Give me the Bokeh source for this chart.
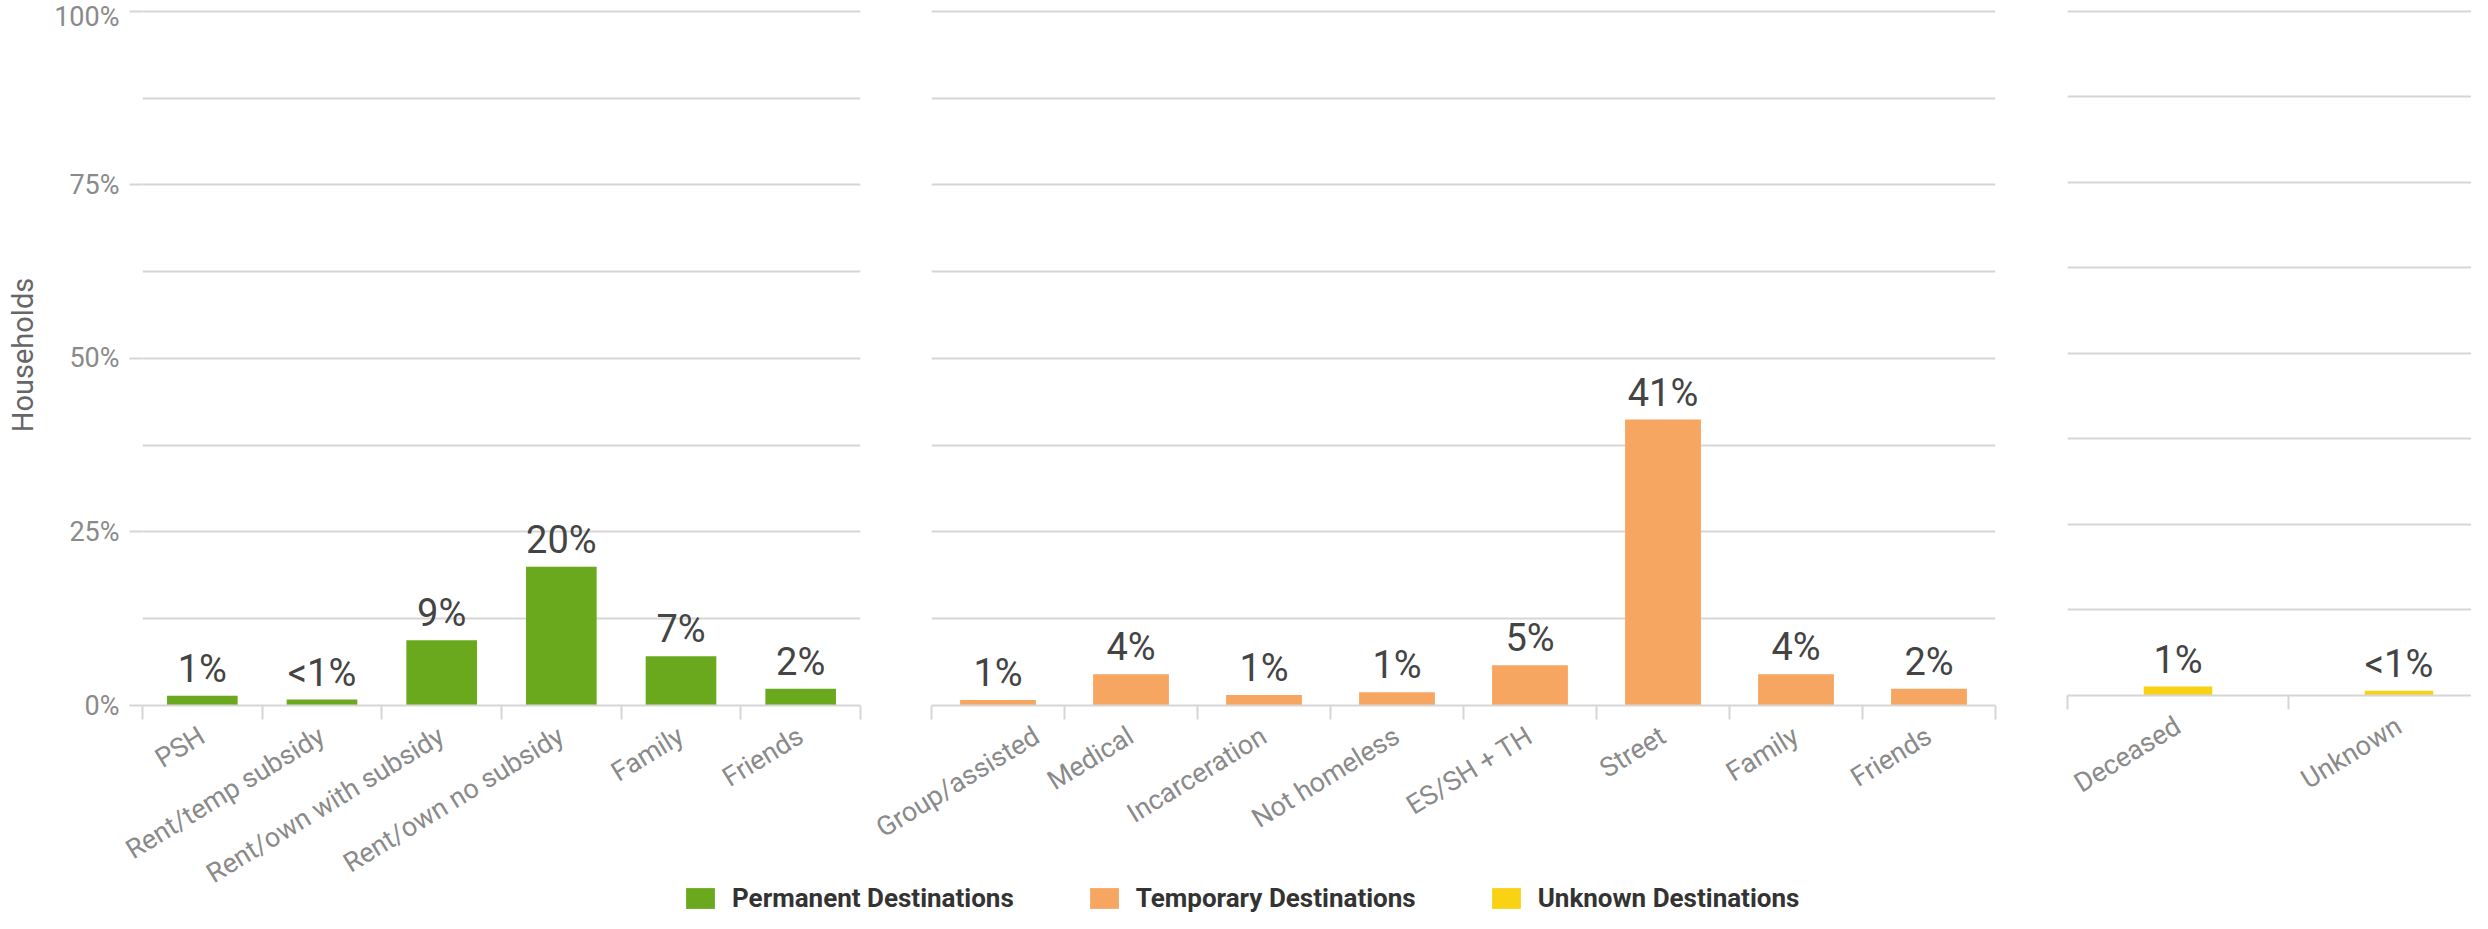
import numpy as np
from bokeh.plotting import figure
from bokeh.models import (Range1d, FixedTicker, PrintfTickFormatter, ColumnDataSource,
                          Legend, LegendItem, CustomJSTickFormatter)
from bokeh.layouts import column, row
from bokeh.embed import file_html
from bokeh.resources import INLINE
from bokeh.core.properties import value

# ---------------- data ----------------
perm_cats = ["PSH", "Rent/temp subsidy", "Rent/own with subsidy", "Rent/own no subsidy", "Family", "Friends"]
perm_vals = [1.4, 0.85, 9.4, 20.0, 7.1, 2.4]
perm_labels = ["1%", "<1%", "9%", "20%", "7%", "2%"]

temp_cats = ["Group/assisted", "Medical", "Incarceration", "Not homeless", "ES/SH + TH", "Street", "Family", "Friends"]
temp_vals = [0.8, 4.5, 1.5, 1.9, 5.8, 41.2, 4.5, 2.4]
temp_labels = ["1%", "4%", "1%", "1%", "5%", "41%", "4%", "2%"]

unk_cats = ["Deceased", "Unknown"]
unk_vals = [1.3, 0.7]
unk_labels = ["1%", "<1%"]

series_names = ["Permanent Destinations", "Temporary Destinations", "Unknown Destinations"]
series_colors = ["#6aa91d", "#f7a661", "#f8d213"]

y_tick_values = [0, 25, 50, 75, 100]
grid_values = [0, 12.5, 25, 37.5, 50, 62.5, 75, 87.5, 100]
y_axis_title = "Households"

# ---------------- style ----------------
FONT = "Roboto"
GRID = "#d6d6d6"
TICK_TXT = "#8a8a8a"
Y_TOP = 101  # small headroom so the 100% gridline is not clipped
BOTTOM = 210  # generous bottom border so every panel has the same height


def panel(cats, vals, labels, color, frame_w, frame_h, left, right, bottom, bar_w, x_end, show_y):
    n = len(cats)
    centers = [i + 0.5 for i in range(n)]
    bounds = [float(i) for i in range(n + 1)]
    p = figure(frame_width=frame_w, frame_height=frame_h,
               x_range=Range1d(0, x_end), y_range=Range1d(0, Y_TOP),
               output_backend="svg", toolbar_location=None,
               min_border_left=left, min_border_right=right,
               min_border_top=4, min_border_bottom=bottom,
               outline_line_color=None, background_fill_color="white",
               border_fill_color="white")
    src = ColumnDataSource(dict(x=centers, top=vals, label=labels))
    p.vbar(x="x", top="top", bottom=0, width=bar_w, source=src,
           fill_color=color, line_color=None)
    p.text(x="x", y="top", text="label", source=src, text_align="center",
           text_baseline="alphabetic", y_offset=-27, text_font=value(FONT),
           text_font_size="38px", text_color="#444444")

    p.xgrid.visible = False
    p.ygrid.ticker = FixedTicker(ticks=grid_values)
    p.ygrid.grid_line_color = GRID
    p.ygrid.grid_line_width = 2

    xa = p.xaxis[0]
    xa.ticker = FixedTicker(ticks=centers, minor_ticks=bounds)
    xa.formatter = CustomJSTickFormatter(args=dict(labels=cats),
                                         code="return labels[Math.floor(tick)] || '';")
    xa.axis_line_color = GRID
    xa.axis_line_width = 2
    xa.major_tick_line_color = None
    xa.major_tick_out = 0
    xa.major_tick_in = 0
    xa.minor_tick_line_color = GRID
    xa.minor_tick_line_width = 2
    xa.minor_tick_out = 14
    xa.minor_tick_in = 0
    xa.major_label_orientation = 0.55
    xa.major_label_standoff = 14
    xa.major_label_text_font = FONT
    xa.major_label_text_font_size = "27px"
    xa.major_label_text_color = TICK_TXT

    ya = p.yaxis[0]
    if show_y:
        ya.ticker = FixedTicker(ticks=y_tick_values)
        ya.formatter = PrintfTickFormatter(format="%d%%")
        ya.axis_line_color = None
        ya.major_tick_line_color = GRID
        ya.major_tick_line_width = 2
        ya.major_tick_out = 13
        ya.major_tick_in = 0
        ya.minor_tick_line_color = None
        ya.major_label_standoff = 10
        ya.major_label_text_font = FONT
        ya.major_label_text_font_size = "27px"
        ya.major_label_text_color = TICK_TXT
        ya.axis_label = y_axis_title
        ya.axis_label_text_font = FONT
        ya.axis_label_text_font_size = "29px"
        ya.axis_label_text_font_style = "normal"
        ya.axis_label_text_color = "#666666"
        ya.axis_label_standoff = 11
    else:
        ya.visible = False
    return p


p1 = panel(perm_cats, perm_vals, perm_labels, series_colors[0], 718, 701, 142, 10, BOTTOM, 0.59,
           len(perm_cats), True)
p2 = panel(temp_cats, temp_vals, temp_labels, series_colors[1], 1064, 701, 61, 10, BOTTOM, 0.57,
           len(temp_cats), False)
p3 = panel(unk_cats, unk_vals, unk_labels, series_colors[2], 404, 691, 62, 0, BOTTOM + 10, 0.31,
           len(unk_cats) - 0.172, False)

row_h = 4 + 701 + BOTTOM
legend_top = 883
leg_h = 30

# legend strip, pulled up into the empty space under the axes
lf = figure(width=2471, height=leg_h, output_backend="svg", toolbar_location=None,
            min_border_left=682, min_border_right=0, min_border_top=0, min_border_bottom=0,
            outline_line_color=None, x_range=Range1d(0, 1), y_range=Range1d(0, 1),
            x_axis_location=None, y_axis_location=None,
            border_fill_alpha=0, background_fill_alpha=0,
            margin=(legend_top - row_h, 0, 0, 0))
lf.grid.visible = False
items = []
for name, col in zip(series_names, series_colors):
    r = lf.vbar(x=[0], top=[0], width=0, fill_color=col, line_color=None)
    items.append(LegendItem(label=name, renderers=[r]))
leg = Legend(items=items, orientation="horizontal", location="bottom_left",
             padding=0, margin=0, spacing=72, label_standoff=14,
             glyph_width=36, glyph_height=26, label_height=26,
             border_line_color=None, background_fill_alpha=0,
             label_text_font=FONT, label_text_font_size="26px",
             label_text_font_style="bold", label_text_color="#333333",
             label_text_baseline="middle")
lf.add_layout(leg)

layout = column(row(p1, p2, p3), lf)
open("out.html", "w").write(file_html(layout, INLINE))
